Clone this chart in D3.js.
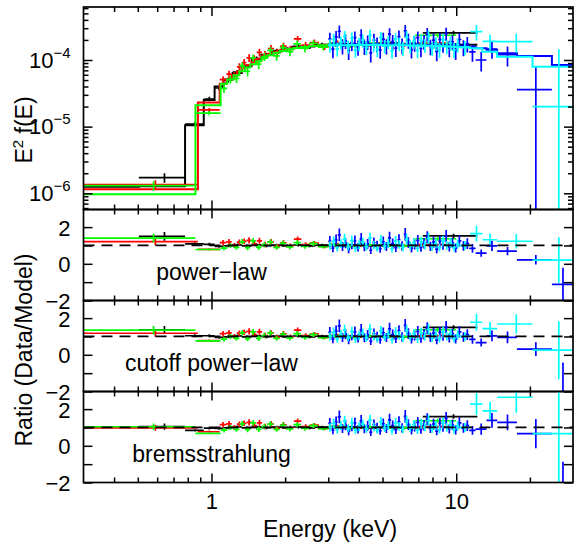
<html>
	<head>
		<script type="text/javascript" src="https://cdn.jsdelivr.net/npm/d3@7/dist/d3.min.js"></script>
		<style>
			body { margin: 0; background: #fff; }
			text { font-family: "Liberation Sans", Arial, Helvetica, sans-serif; }
		</style>
	</head>
	<body>
		<div id="chart"></div>
		<script>
			// energies are bin edges in keV, E^2 f(E), errors and models in units of 1e-4
			var blackEdges = [0.3, 0.505, 0.78, 0.93, 1.03, 1.12, 1.22, 1.33, 1.46, 1.6, 1.76, 1.94, 2.14, 2.38, 2.66, 3.0, 3.45, 4.0, 4.8, 5.9, 7.3, 12.2];
			var blackFlux  = [null, 0.0172, 0.109, 0.26, 0.38, 0.50, 0.66, 0.80, 1.05, 1.18, 1.38, 1.44, 1.60, 1.58, 1.70, 1.68, 1.75, 1.70, 1.80, 1.72, 2.55];
			var blackErr   = [null, 0.0028, 0.008, 0.02, 0.03, 0.04, 0.05, 0.06, 0.08, 0.09, 0.1, 0.11, 0.12, 0.12, 0.12, 0.11, 0.1, 0.1, 0.1, 0.11, 0.2];
			var blackCut   = [0.0125, 0.0127, 0.105, 0.25, 0.40, 0.51, 0.64, 0.82, 1.02, 1.2, 1.35, 1.47, 1.56, 1.62, 1.67, 1.70, 1.72, 1.73, 1.74, 1.74, 1.70];
			var blackPL    = [0.0122, 0.0115, 0.100, 0.245, 0.40, 0.51, 0.64, 0.82, 1.02, 1.2, 1.35, 1.47, 1.56, 1.62, 1.67, 1.70, 1.72, 1.73, 1.74, 1.74, 1.68];
			var blackBrems = [0.014, 0.0165, 0.13, 0.27, 0.40, 0.51, 0.64, 0.82, 1.02, 1.2, 1.35, 1.47, 1.56, 1.62, 1.67, 1.70, 1.72, 1.73, 1.74, 1.74, 1.60];

			var redEdges = [0.3, 0.88, 1.08, 1.15, 1.21, 1.27, 1.33, 1.39, 1.46, 1.53, 1.61, 1.7, 1.8, 1.91, 2.03, 2.17, 2.33, 2.52, 2.75, 3.05, 3.5, 4.2, 5.3, 7.0, 9.5];
			var redFlux  = [0.0135, 0.178, 0.506, 0.612, 0.58, 0.79, 0.915, 1.075, 1.034, 1.30, 1.197, 1.488, 1.264, 1.62, 1.45, 2.08, 1.67, 1.83, 1.59, 1.80, 1.68, 1.77, 1.69, 1.80];
			var redErr   = [0.0022, 0.014, 0.066, 0.08, 0.08, 0.1, 0.12, 0.14, 0.14, 0.17, 0.17, 0.19, 0.18, 0.2, 0.19, 0.22, 0.2, 0.2, 0.18, 0.16, 0.13, 0.12, 0.12, 0.14];
			var redCut   = [0.0115, 0.23, 0.44, 0.51, 0.58, 0.67, 0.75, 0.84, 0.94, 1.04, 1.14, 1.24, 1.33, 1.41, 1.48, 1.54, 1.59, 1.63, 1.67, 1.70, 1.72, 1.73, 1.73, 1.72];
			var redPL    = [0.0112, 0.225, 0.44, 0.51, 0.58, 0.67, 0.75, 0.84, 0.94, 1.04, 1.14, 1.24, 1.33, 1.41, 1.48, 1.54, 1.59, 1.63, 1.67, 1.70, 1.72, 1.73, 1.73, 1.72];
			var redBrems = [0.0138, 0.232, 0.44, 0.51, 0.58, 0.67, 0.75, 0.84, 0.94, 1.04, 1.14, 1.24, 1.33, 1.41, 1.48, 1.54, 1.59, 1.63, 1.67, 1.70, 1.72, 1.73, 1.73, 1.72];

			var greenEdges = [0.3, 0.86, 1.09, 1.16, 1.23, 1.3, 1.37, 1.44, 1.52, 1.6, 1.69, 1.79, 1.9, 2.02, 2.16, 2.32, 2.5, 2.72, 3.0, 3.4, 4.0, 4.9, 6.8, 10.0];
			var greenFlux  = [0.013, 0.16, 0.374, 0.51, 0.531, 0.816, 0.678, 1.075, 0.864, 1.124, 1.392, 1.152, 1.534, 1.334, 1.748, 1.49, 1.782, 1.56, 1.76, 1.63, 1.78, 1.70, 2.35];
			var greenErr   = [0.0022, 0.012, 0.055, 0.07, 0.08, 0.1, 0.11, 0.13, 0.14, 0.16, 0.18, 0.18, 0.2, 0.2, 0.21, 0.2, 0.2, 0.17, 0.15, 0.13, 0.12, 0.12, 0.18];
			var greenCut   = [0.0097, 0.21, 0.44, 0.51, 0.59, 0.68, 0.77, 0.86, 0.96, 1.07, 1.18, 1.28, 1.37, 1.45, 1.52, 1.57, 1.62, 1.66, 1.69, 1.71, 1.72, 1.73, 1.72];
			var greenPL    = [0.0093, 0.205, 0.44, 0.51, 0.59, 0.68, 0.77, 0.86, 0.96, 1.07, 1.18, 1.28, 1.37, 1.45, 1.52, 1.57, 1.62, 1.66, 1.69, 1.71, 1.72, 1.73, 1.72];
			var greenBrems = [0.0125, 0.235, 0.44, 0.51, 0.59, 0.68, 0.77, 0.86, 0.96, 1.07, 1.18, 1.28, 1.37, 1.45, 1.52, 1.57, 1.62, 1.66, 1.69, 1.71, 1.72, 1.73, 1.72];

			var blueEdges = [3.0, 3.09, 3.18, 3.28, 3.38, 3.48, 3.58, 3.69, 3.8, 3.91, 4.03, 4.15, 4.28, 4.41, 4.54, 4.68, 4.82, 4.96, 5.11, 5.26,
				5.42, 5.58, 5.75, 5.92, 6.1, 6.28, 6.47, 6.66, 6.86, 7.07, 7.28, 7.5, 7.73, 7.96, 8.2, 8.45, 8.7, 8.96, 9.23, 9.51,
				9.8, 10.1, 10.5, 10.9, 11.3, 12.0, 13.3, 14.7, 17.7, 24.6, 30.0];
			var blueFlux = [2.07, 1.46, 2.22, 2.70, 1.63, 1.93, 1.38, 1.82, 2.16, 1.56, 2.35, 1.61, 1.87, 1.28, 1.99, 1.73, 1.42, 2.06, 1.63, 2.44,
				1.89, 1.51, 2.24, 1.66, 2.74, 1.98, 1.43, 1.79, 2.16, 1.50, 1.89, 2.45, 1.60, 1.98, 1.34, 2.04, 1.73, 2.49, 1.52, 1.87,
				1.40, 2.03, 1.56, 1.75, 1.32, 1.00, 1.46, 1.20, 0.36, -1.80];
			var blueErr = [0.5, 0.4, 0.5, 0.6, 0.42, 0.48, 0.38, 0.45, 0.52, 0.4, 0.55, 0.42, 0.46, 0.36, 0.48, 0.44, 0.38, 0.5, 0.42, 0.56,
				0.48, 0.4, 0.52, 0.44, 0.6, 0.5, 0.38, 0.46, 0.52, 0.4, 0.48, 0.56, 0.42, 0.5, 0.38, 0.5, 0.45, 0.56, 0.42, 0.48,
				0.4, 0.5, 0.42, 0.46, 0.38, 0.33, 0.42, 0.4, 0.43, 1.45];
			var blueCut = [1.70, 1.70, 1.71, 1.71, 1.72, 1.72, 1.72, 1.73, 1.73, 1.73, 1.73, 1.73, 1.73, 1.73, 1.73, 1.73, 1.73, 1.72, 1.72, 1.72,
				1.72, 1.72, 1.71, 1.71, 1.71, 1.71, 1.70, 1.70, 1.70, 1.69, 1.69, 1.69, 1.68, 1.68, 1.67, 1.67, 1.66, 1.66, 1.65, 1.64,
				1.63, 1.62, 1.61, 1.59, 1.57, 1.50, 1.42, 1.26, 1.15, 0.84];
			var bluePL = [1.70, 1.70, 1.71, 1.71, 1.72, 1.72, 1.72, 1.73, 1.73, 1.73, 1.73, 1.73, 1.73, 1.73, 1.73, 1.73, 1.73, 1.72, 1.72, 1.72,
				1.72, 1.72, 1.71, 1.71, 1.71, 1.71, 1.70, 1.70, 1.70, 1.69, 1.69, 1.69, 1.68, 1.68, 1.67, 1.67, 1.66, 1.66, 1.65, 1.64,
				1.63, 1.62, 1.61, 1.59, 1.57, 1.72, 1.50, 1.74, 1.64, 1.60];
			var blueBrems = [1.70, 1.70, 1.71, 1.71, 1.72, 1.72, 1.72, 1.73, 1.73, 1.73, 1.73, 1.73, 1.73, 1.73, 1.73, 1.73, 1.73, 1.72, 1.72, 1.72,
				1.72, 1.72, 1.71, 1.71, 1.71, 1.71, 1.70, 1.70, 1.70, 1.69, 1.69, 1.69, 1.68, 1.68, 1.67, 1.67, 1.66, 1.66, 1.65, 1.64,
				1.63, 1.62, 1.61, 1.59, 1.57, 1.10, 1.05, 0.94, 0.54, 0.40];

			var cyanEdges = [3.0, 3.1, 3.21, 3.32, 3.44, 3.56, 3.68, 3.81, 3.94, 4.08, 4.22, 4.37, 4.52, 4.68, 4.84, 5.01, 5.19, 5.37, 5.56, 5.75,
				5.95, 6.16, 6.38, 6.6, 6.83, 7.07, 7.32, 7.57, 7.84, 8.11, 8.4, 8.69, 8.99, 9.31, 9.63, 9.97, 10.3, 11.4, 12.8, 14.7,
				20.5, 32.0];
			var cyanFlux = [1.66, 2.03, 1.47, 1.84, 2.25, 1.60, 2.12, 1.41, 1.76, 1.98, 1.55, 2.35, 1.71, 1.44, 2.18, 1.62, 1.87, 1.37, 2.07, 1.76,
				1.49, 2.21, 1.62, 1.90, 1.40, 1.97, 1.67, 2.25, 1.52, 1.78, 1.43, 2.01, 1.60, 1.81, 1.42, 1.70, 1.55, 2.66, 1.90, 1.88,
				0.20];
			var cyanErr = [0.38, 0.44, 0.34, 0.4, 0.48, 0.36, 0.46, 0.33, 0.4, 0.44, 0.36, 0.5, 0.4, 0.34, 0.46, 0.37, 0.42, 0.33, 0.45, 0.4,
				0.35, 0.48, 0.38, 0.43, 0.34, 0.44, 0.39, 0.5, 0.36, 0.41, 0.35, 0.46, 0.38, 0.42, 0.35, 0.4, 0.38, 0.7, 0.5, 0.6,
				1.25];
			var cyanCut = [1.66, 1.66, 1.67, 1.67, 1.67, 1.68, 1.68, 1.68, 1.68, 1.68, 1.68, 1.68, 1.68, 1.68, 1.68, 1.67, 1.67, 1.67, 1.67, 1.66,
				1.66, 1.66, 1.65, 1.65, 1.65, 1.64, 1.64, 1.63, 1.63, 1.62, 1.62, 1.61, 1.60, 1.59, 1.58, 1.57, 1.55, 1.50, 1.33, 1.12,
				0.79];
			var cyanPL = [1.66, 1.66, 1.67, 1.67, 1.67, 1.68, 1.68, 1.68, 1.68, 1.68, 1.68, 1.68, 1.68, 1.68, 1.68, 1.67, 1.67, 1.67, 1.67, 1.66,
				1.66, 1.66, 1.65, 1.65, 1.65, 1.64, 1.64, 1.63, 1.63, 1.62, 1.62, 1.61, 1.60, 1.59, 1.58, 1.57, 1.55, 1.62, 1.45, 1.53,
				1.00];
			var cyanBrems = [1.66, 1.66, 1.67, 1.67, 1.67, 1.68, 1.68, 1.68, 1.68, 1.68, 1.68, 1.68, 1.68, 1.68, 1.68, 1.67, 1.67, 1.67, 1.67, 1.66,
				1.66, 1.66, 1.65, 1.65, 1.65, 1.64, 1.64, 1.63, 1.63, 1.62, 1.62, 1.61, 1.60, 1.59, 1.58, 1.57, 1.55, 1.17, 1.00, 0.71,
				0.30];

			var panelNames = ["power\u2212law", "cutoff power\u2212law", "bremsstrahlung"];
			var xTickVals = [1, 10];
			var yTopTickVals = [1e-6, 1e-5, 1e-4];
			var yTopTickExp = ["\u22126", "\u22125", "\u22124"];
			var ratioTickVals = [-2, -1, 0, 1, 2];

			var unit = 1e-4;
			var mainWidth = 574, mainHeight = 544;
			var plotLeft = 83.5, plotRight = 573;
			var topY0 = 7, topY1 = 209.5, ratioH = 91;
			var fontFam = "'Liberation Sans', Arial, Helvetica, sans-serif";

			// one entry per data group; the top panel shows the cutoff power-law model
			var groups = [
				{ color: "#000000", edges: blackEdges, flux: blackFlux, err: blackErr, top: blackCut, models: [blackPL, blackCut, blackBrems] },
				{ color: "#ff0000", edges: redEdges, flux: redFlux, err: redErr, top: redCut, models: [redPL, redCut, redBrems] },
				{ color: "#00ff00", edges: greenEdges, flux: greenFlux, err: greenErr, top: greenCut, models: [greenPL, greenCut, greenBrems] },
				{ color: "#0000ff", edges: blueEdges, flux: blueFlux, err: blueErr, top: blueCut, models: [bluePL, blueCut, blueBrems] },
				{ color: "#00ffff", edges: cyanEdges, flux: cyanFlux, err: cyanErr, top: cyanCut, models: [cyanPL, cyanCut, cyanBrems] }
			];
			groups.forEach(function(g) {
				g.bins = g.flux.map(function(f, i) {
					return {
						lo: g.edges[i], hi: g.edges[i + 1],
						f: f == null ? null : f * unit,
						e: f == null ? null : g.err[i] * unit,
						m: g.top[i] * unit,
						mk: g.models.map(function(mm) { return mm[i] * unit; })
					};
				});
			});

			var x = d3.scaleLog().domain([0.3, 30]).range([plotLeft, plotRight]);
			var yTop = d3.scaleLog().domain([5.71e-7, 6.24e-4]).range([topY1, topY0]);
			function yT(v) { return v > 0 ? yTop(v) : topY1 + 30; }

			var svg = d3.select("#chart").append("svg")
				.attr("width", mainWidth).attr("height", mainHeight);
			var defs = svg.append("defs");

			var xMinor = x.ticks().filter(function(d) {
				return xTickVals.indexOf(d) < 0 && d > 0.3 && d < 30;
			});

			function clipFor(id, y0, y1) {
				defs.append("clipPath").attr("id", id).append("rect")
					.attr("x", plotLeft).attr("y", y0)
					.attr("width", plotRight - plotLeft).attr("height", y1 - y0);
				return "url(#" + id + ")";
			}

			function styleAxis(sel) {
				sel.select(".domain").remove();
				sel.attr("font-size", 22).attr("font-family", fontFam);
				sel.selectAll("line").attr("stroke-width", 1.5);
			}

			// x ticks top and bottom of a panel
			function xTicks(y0, y1, labels) {
				svg.append("g").attr("transform", "translate(0," + y1 + ")")
					.call(d3.axisBottom(x).tickValues(xTickVals).tickSize(-9).tickPadding(11)
						.tickFormat(labels ? d3.format("d") : function() { return ""; }))
					.call(styleAxis);
				svg.append("g").attr("transform", "translate(0," + y1 + ")")
					.call(d3.axisBottom(x).tickValues(xMinor).tickSize(-5).tickFormat(function() { return ""; }))
					.call(styleAxis);
				svg.append("g").attr("transform", "translate(0," + y0 + ")")
					.call(d3.axisTop(x).tickValues(xTickVals).tickSize(-9).tickFormat(function() { return ""; }))
					.call(styleAxis);
				svg.append("g").attr("transform", "translate(0," + y0 + ")")
					.call(d3.axisTop(x).tickValues(xMinor).tickSize(-5).tickFormat(function() { return ""; }))
					.call(styleAxis);
			}

			function crossPath(b, v, e, yf) {
				var xc = x((b.lo + b.hi) / 2);
				var p = "";
				if (v > 0 || yf !== yT) p += "M" + x(b.lo) + "," + yf(v) + "H" + x(b.hi);
				if (v + e > 0 || yf !== yT) p += "M" + xc + "," + yf(v - e) + "V" + yf(v + e);
				return p;
			}

			// ---- top panel: unfolded spectrum ----
			var clipTop = clipFor("clipTop", topY0, topY1);
			var gTop = svg.append("g").attr("clip-path", clipTop);
			var step = d3.line().curve(d3.curveStepAfter)
				.x(function(d) { return x(d[0]); })
				.y(function(d) { return yTop(d[1]); });

			groups.forEach(function(g) {
				var pts = g.bins.map(function(b) { return [b.lo, b.m]; });
				pts.push([g.bins[g.bins.length - 1].hi, g.bins[g.bins.length - 1].m]);
				gTop.append("path").datum(g.bins.filter(function(b) { return b.f != null; }))
					.attr("d", function(d) {
						return d.map(function(b) { return crossPath(b, b.f, b.e, yT); }).join("");
					})
					.style("fill", "none").style("stroke", g.color).style("stroke-width", 1.7);
				gTop.append("path").datum(pts).attr("d", step)
					.style("fill", "none").style("stroke", g.color).style("stroke-width", 2);
			});

			xTicks(topY0, topY1, false);
			var yTopMinor = yTop.ticks().filter(function(d) {
				return yTopTickVals.indexOf(d) < 0;
			});
			var yl = svg.append("g").attr("transform", "translate(" + plotLeft + ",0)")
				.call(d3.axisLeft(yTop).tickValues(yTopTickVals).tickSize(-9).tickPadding(13)
					.tickFormat(function() { return ""; }))
				.call(styleAxis);
			yl.selectAll(".tick text").attr("dy", "0.32em").each(function(d, i) {
				var t = d3.select(this);
				t.append("tspan").text("10");
				t.append("tspan").attr("dy", -10).attr("font-size", 15).text(yTopTickExp[i]);
			});
			svg.append("g").attr("transform", "translate(" + plotLeft + ",0)")
				.call(d3.axisLeft(yTop).tickValues(yTopMinor).tickSize(-5).tickFormat(function() { return ""; }))
				.call(styleAxis);
			svg.append("g").attr("transform", "translate(" + plotRight + ",0)")
				.call(d3.axisRight(yTop).tickValues(yTopTickVals).tickSize(-9).tickFormat(function() { return ""; }))
				.call(styleAxis);
			svg.append("g").attr("transform", "translate(" + plotRight + ",0)")
				.call(d3.axisRight(yTop).tickValues(yTopMinor).tickSize(-5).tickFormat(function() { return ""; }))
				.call(styleAxis);
			svg.append("rect").attr("x", plotLeft).attr("y", topY0)
				.attr("width", plotRight - plotLeft).attr("height", topY1 - topY0)
				.style("fill", "none").style("stroke", "#000").style("stroke-width", 1.7);

			// ---- ratio panels ----
			panelNames.forEach(function(name, k) {
				var y0 = topY1 + k * ratioH, y1 = y0 + ratioH;
				var yR = d3.scaleLinear().domain([-2, 2.96]).range([y1, y0]);
				var g = svg.append("g").attr("clip-path", clipFor("clipR" + k, y0, y1));

				groups.forEach(function(grp) {
					g.append("path").datum(grp.bins.filter(function(b) { return b.f != null; }))
						.attr("d", function(d) {
							return d.map(function(b) {
								return crossPath(b, b.f / b.mk[k], b.e / b.mk[k], yR);
							}).join("");
						})
						.style("fill", "none").style("stroke", grp.color).style("stroke-width", 1.7);
				});

				g.append("line").attr("x1", plotLeft).attr("x2", plotRight)
					.attr("y1", yR(1)).attr("y2", yR(1))
					.style("stroke", "#000").style("stroke-width", 1.7)
					.style("stroke-dasharray", "11,7");

				xTicks(y0, y1, k === panelNames.length - 1);
				svg.append("g").attr("transform", "translate(" + plotLeft + ",0)")
					.call(d3.axisLeft(yR).tickValues(ratioTickVals).tickSize(-9).tickPadding(13)
						.tickFormat(function(d) {
							return d % 2 === 0 ? (d < 0 ? "\u2212" : "") + Math.abs(d) : "";
						}))
					.call(styleAxis)
					.selectAll(".tick text").attr("dy", "0.36em");
				svg.append("g").attr("transform", "translate(" + plotRight + ",0)")
					.call(d3.axisRight(yR).tickValues(ratioTickVals).tickSize(-9).tickFormat(function() { return ""; }))
					.call(styleAxis);
				svg.append("rect").attr("x", plotLeft).attr("y", y0)
					.attr("width", plotRight - plotLeft).attr("height", ratioH)
					.style("fill", "none").style("stroke", "#000").style("stroke-width", 1.7);

				svg.append("text").attr("x", x(1)).attr("y", y0 + 70.5)
					.attr("text-anchor", "middle").style("font-size", "23px")
					.text(name);
			});

			// ---- axis titles ----
			var yt = svg.append("text").attr("transform", "translate(32," + 130 + ") rotate(-90)")
				.attr("text-anchor", "middle").style("font-size", "23px");
			yt.append("tspan").text("E");
			yt.append("tspan").attr("dy", -9).style("font-size", "15px").text("2");
			yt.append("tspan").attr("dy", 9).text(" f(E)");

			svg.append("text").attr("transform", "translate(32," + 350 + ") rotate(-90)")
				.attr("text-anchor", "middle").style("font-size", "23px")
				.text("Ratio (Data/Model)");

			svg.append("text").attr("x", 330).attr("y", 537)
				.attr("text-anchor", "middle").style("font-size", "23px")
				.text("Energy (keV)");
		</script>
	</body>
</html>
